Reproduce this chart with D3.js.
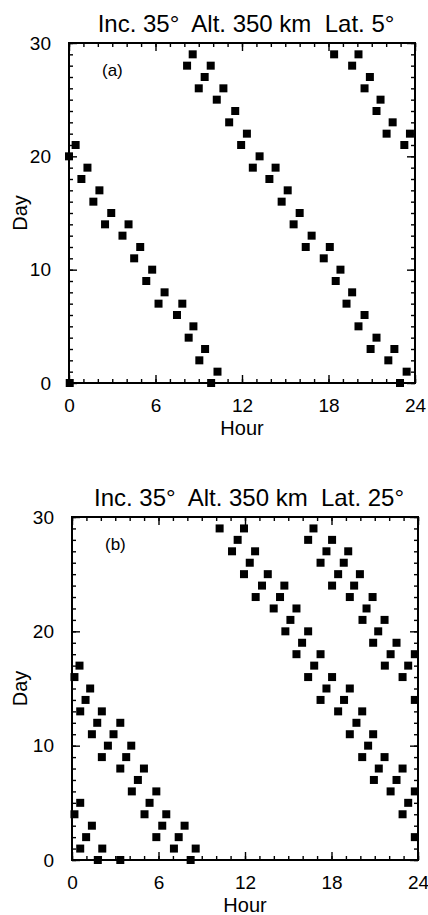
<!DOCTYPE html>
<html>
<head>
<meta charset="utf-8">
<script src="https://cdn.jsdelivr.net/npm/d3@7"></script>
<style>
  html, body { margin: 0; padding: 0; background: #fff; }
  svg { display: block; }
  text { font-family: "Liberation Sans", Arial, Helvetica, sans-serif; fill: #000; }
</style>
</head>
<body>
<svg id="chart" width="428" height="915"></svg>
<script>
// Ground-track overpass times: [hour of day, day number]
const passesLat5 = [
  [0.05, 0], [0.0, 20], [0.46, 21], [0.86, 18], [1.28, 19], [1.69, 16], [2.11, 17],
  [2.5, 14], [2.93, 15], [3.71, 13], [4.13, 14], [4.52, 11], [4.94, 12], [5.36, 9],
  [5.77, 10], [6.21, 7], [6.63, 8], [7.49, 6], [7.86, 7], [8.3, 4], [8.63, 5],
  [9.04, 2], [9.44, 3], [9.86, 0], [10.3, 1],
  [8.19, 28], [8.58, 29], [9.0, 26], [9.41, 27], [9.83, 28], [10.25, 25], [10.71, 26],
  [11.11, 23], [11.53, 24], [11.94, 21], [12.34, 22], [12.75, 19], [13.22, 20],
  [13.9, 18], [14.33, 19], [14.75, 16], [15.17, 17], [15.58, 14], [16.0, 15],
  [16.42, 12], [16.83, 13], [17.67, 11], [18.09, 12], [18.5, 9], [18.83, 10],
  [19.25, 7], [19.64, 8], [20.08, 5], [20.5, 6], [20.92, 3], [21.33, 4],
  [22.15, 2], [22.57, 3], [22.96, 0], [23.42, 1],
  [18.39, 29], [19.64, 28], [20.08, 29], [20.5, 26], [20.87, 27], [21.33, 24],
  [21.61, 25], [22.03, 22], [22.45, 23], [23.26, 21], [23.65, 22]
];

const passesLat25 = [
  [0.17, 16], [0.52, 17], [0.57, 13], [0.94, 14], [1.26, 15], [1.38, 11], [1.75, 12],
  [2.07, 13], [2.07, 9], [2.49, 10], [2.88, 11], [3.35, 12], [3.35, 8], [3.76, 9],
  [4.11, 10], [4.15, 6], [4.57, 7], [4.99, 8], [5.03, 4], [5.38, 5], [5.85, 6],
  [5.85, 2], [6.26, 3], [6.54, 4], [7.07, 1], [7.4, 2], [7.81, 3], [8.23, 0], [8.58, 1],
  [0.17, 4], [0.57, 5], [0.57, 1], [0.98, 2], [1.38, 3], [1.79, 0], [2.1, 1], [3.35, 0],
  [10.24, 29], [11.1, 27], [11.49, 28], [11.93, 29], [11.93, 25], [12.33, 26],
  [12.7, 27], [12.74, 23], [13.18, 24], [13.58, 25], [13.99, 22], [14.43, 23],
  [14.73, 24], [14.8, 20], [15.15, 21], [15.57, 22], [15.57, 18], [15.96, 19],
  [16.38, 20], [16.38, 16], [16.8, 17], [17.24, 18], [17.65, 15], [18.04, 16],
  [17.24, 14], [18.46, 13], [18.87, 14], [19.27, 15], [19.27, 11], [19.73, 12],
  [20.13, 13], [20.13, 9], [20.54, 10], [20.89, 11], [20.94, 7], [21.28, 8],
  [21.68, 9], [22.1, 6], [22.51, 7], [22.93, 8], [22.93, 4], [23.32, 5],
  [23.78, 6], [23.78, 2],
  [16.38, 28], [16.75, 29], [17.24, 26], [17.65, 27], [18.04, 28], [18.04, 24],
  [18.46, 25], [18.85, 26], [19.16, 27], [19.27, 23], [19.57, 24], [19.97, 25],
  [20.15, 21], [20.43, 22], [20.85, 23], [20.89, 19], [21.24, 20], [21.68, 21],
  [21.7, 17], [22.1, 18], [22.51, 19], [22.93, 16], [23.32, 17], [23.78, 18],
  [23.78, 14]
];

const hourTicks = [0, 6, 12, 18, 24];
const hourMinorTicks = d3.range(0, 25, 1);
const dayTicks = [0, 10, 20, 30];
const dayMinorTicks = d3.range(0, 31, 1);
const panelTitles = ["Inc. 35°  Alt. 350 km  Lat. 5°", "Inc. 35°  Alt. 350 km  Lat. 25°"];
const panelTags = ["(a)", "(b)"];

const svg = d3.select("#chart");

function drawPanel(data, title, tag, box) {
  const x = d3.scaleLinear().domain([0, 24]).range([box.left, box.right]);
  const y = d3.scaleLinear().domain([0, 30]).range([box.bottom, box.top]);
  const g = svg.append("g");

  // minor ticks (inside, all four sides)
  const minorLen = 4, majorLen = 8;
  const addAxis = (axis, tr, cls) => {
    const a = g.append("g").attr("transform", tr).call(axis);
    a.select(".domain").remove();
    a.selectAll(".tick line").attr("stroke", "#000").attr("stroke-width", 1.4);
    a.selectAll("text").remove();
    return a;
  };
  addAxis(d3.axisBottom(x).tickValues(hourMinorTicks).tickSize(-minorLen), `translate(0,${box.bottom})`);
  addAxis(d3.axisTop(x).tickValues(hourMinorTicks).tickSize(-minorLen), `translate(0,${box.top})`);
  addAxis(d3.axisLeft(y).tickValues(dayMinorTicks).tickSize(-minorLen), `translate(${box.left},0)`);
  addAxis(d3.axisRight(y).tickValues(dayMinorTicks).tickSize(-minorLen), `translate(${box.right},0)`);

  // major ticks
  addAxis(d3.axisTop(x).tickValues(hourTicks).tickSize(-majorLen), `translate(0,${box.top})`);
  addAxis(d3.axisRight(y).tickValues(dayTicks).tickSize(-majorLen), `translate(${box.right},0)`);

  const bottom = g.append("g").attr("transform", `translate(0,${box.bottom})`)
    .call(d3.axisBottom(x).tickValues(hourTicks).tickSize(-majorLen).tickPadding(majorLen + 8).tickFormat(d3.format("d")));
  bottom.select(".domain").remove();
  bottom.selectAll(".tick line").attr("stroke", "#000").attr("stroke-width", 1.4);
  bottom.selectAll("text").attr("font-size", 19).attr("font-family", "Liberation Sans, Arial, sans-serif");

  const left = g.append("g").attr("transform", `translate(${box.left},0)`)
    .call(d3.axisLeft(y).tickValues(dayTicks).tickSize(-majorLen).tickPadding(majorLen + 10).tickFormat(d3.format("d")));
  left.select(".domain").remove();
  left.selectAll(".tick line").attr("stroke", "#000").attr("stroke-width", 1.4);
  left.selectAll("text").attr("font-size", 19).attr("font-family", "Liberation Sans, Arial, sans-serif");

  // frame
  g.append("rect")
    .attr("x", box.left).attr("y", box.top)
    .attr("width", box.right - box.left).attr("height", box.bottom - box.top)
    .attr("fill", "none").attr("stroke", "#000").attr("stroke-width", 2);

  // pass markers
  const s = 8;
  g.append("g").selectAll("rect")
    .data(data)
    .join("rect")
    .attr("x", d => x(d[0]) - s / 2)
    .attr("y", d => y(d[1]) - s / 2)
    .attr("width", s).attr("height", s)
    .attr("fill", "#000");

  // titles and labels
  g.append("text")
    .attr("x", (box.left + box.right) / 2 + 4).attr("y", box.top - 11)
    .attr("text-anchor", "middle").attr("font-size", 24)
    .style("white-space", "pre")
    .text(title);

  g.append("text")
    .attr("x", box.left + 33).attr("y", box.top + 33)
    .attr("font-size", 17)
    .text(tag);

  g.append("text")
    .attr("x", (box.left + box.right) / 2).attr("y", box.bottom + 52)
    .attr("text-anchor", "middle").attr("font-size", 20)
    .text("Hour");

  g.append("text")
    .attr("transform", `translate(27,${(box.top + box.bottom) / 2}) rotate(-90)`)
    .attr("text-anchor", "middle").attr("font-size", 20)
    .text("Day");
}

drawPanel(passesLat5, panelTitles[0], panelTags[0], { left: 69, right: 415, top: 43, bottom: 383 });
drawPanel(passesLat25, panelTitles[1], panelTags[1], { left: 72, right: 418, top: 517, bottom: 860 });
</script>
</body>
</html>
